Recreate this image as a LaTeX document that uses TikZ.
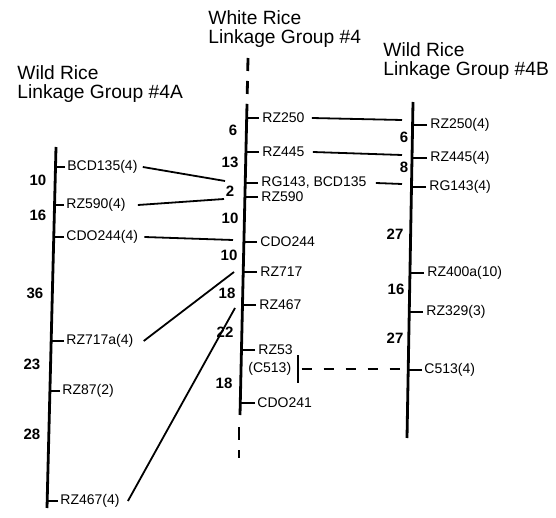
\documentclass[tikz,border=0pt]{standalone}
\usepackage{fontspec}
\setmainfont{Liberation Sans}
\begin{document}
\begin{tikzpicture}[
  x=0.5pt, y=-0.5pt,
  title/.style={anchor=north west, align=left, inner sep=0pt, font=\fontsize{9.6}{9.5}\selectfont},
  marker/.style={anchor=west, inner sep=0pt, font=\fontsize{7}{8}\selectfont},
  dist/.style={inner sep=0pt, font=\fontsize{7.5}{8}\selectfont\bfseries},
  chrom/.style={line width=1.4pt},
  chromdash/.style={line width=1.4pt, dash pattern=on 6.5pt off 5pt},
  tick/.style={line width=1pt},
  link/.style={line width=0.9pt},
  linkdash/.style={line width=0.9pt, dash pattern=on 5pt off 6pt}
]
\useasboundingbox (0,0) rectangle (556,518);

% titles
\node[title] (title-a) at (17,65) {Wild Rice\\Linkage Group \#4A};
\node[title] (title-w) at (208,10) {White Rice\\Linkage Group \#4};
\node[title] (title-b) at (383,42) {Wild Rice\\Linkage Group \#4B};

% chromosomes
\coordinate (a-top) at (56,147);
\coordinate (a-bot) at (47,508);
\coordinate (w-top) at (247,104);
\coordinate (w-bot) at (240,415);
\coordinate (w-dtop) at (248,58);
\coordinate (w-dbot) at (239,427);
\coordinate (w-dend) at (239,458);
\coordinate (b-top) at (413,102);
\coordinate (b-bot) at (407,438);
\draw[chrom] (a-top) -- (a-bot);
\draw[chrom] (w-top) -- (w-bot);
\draw[chromdash] (w-dtop) -- (w-top);
\draw[chromdash] (w-dbot) -- (w-dend);
\draw[chrom] (b-top) -- (b-bot);

% wild rice 4A
\node[marker] (a-bcd135) at (67,167) {BCD135(4)};
\node[marker] (a-rz590) at (66,205) {RZ590(4)};
\node[marker] (a-cdo244) at (66,237) {CDO244(4)};
\node[marker] (a-rz717a) at (66,341) {RZ717a(4)};
\node[marker] (a-rz87) at (62,391) {RZ87(2)};
\node[marker] (a-rz467) at (60,501) {RZ467(4)};
\draw[tick] (a-bcd135.west) ++(-2,0) -- ++(-10,0);
\draw[tick] (a-rz590.west) ++(-2,0) -- ++(-10,0);
\draw[tick] (a-cdo244.west) ++(-2,0) -- ++(-10,0);
\draw[tick] (a-rz717a.west) ++(-2,0) -- ++(-13,0);
\draw[tick] (a-rz87.west) ++(-2,0) -- ++(-10,0);
\draw[tick] (a-rz467.west) ++(-2,0) -- ++(-11,0);
\node[dist] (a-d1) at (38,180) {10};
\node[dist] (a-d2) at (38,215) {16};
\node[dist] (a-d3) at (35,293) {36};
\node[dist] (a-d4) at (32,364) {23};
\node[dist] (a-d5) at (32,434) {28};

% white rice 4
\node[marker] (w-rz250) at (262,118) {RZ250};
\node[marker] (w-rz445) at (262,152) {RZ445};
\node[marker] (w-rg143) at (261,183) {RG143, BCD135};
\node[marker] (w-rz590) at (261,197) {RZ590};
\node[marker] (w-cdo244) at (260,242) {CDO244};
\node[marker] (w-rz717) at (260,272) {RZ717};
\node[marker] (w-rz467) at (259,305) {RZ467};
\node[marker] (w-rz53) at (258,350) {RZ53};
\node[marker] (w-c513) at (248,369) {(C513)};
\node[marker] (w-cdo241) at (257,403) {CDO241};
\draw[tick] (w-rz250.west) ++(-3,0) -- ++(-12,0);
\draw[tick] (w-rz445.west) ++(-3,0) -- ++(-13,0);
\draw[tick] (w-rg143.west) ++(-3,0) -- ++(-13,0);
\draw[tick] (w-rz590.west) ++(-3,0) -- ++(-13,0);
\draw[tick] (w-cdo244.west) ++(-3,0) -- ++(-13,0);
\draw[tick] (w-rz717.west) ++(-3,0) -- ++(-14,0);
\draw[tick] (w-rz467.west) ++(-3,0) -- ++(-14,0);
\draw[tick] (w-rz53.west) ++(-3,0) -- ++(-14,0);
\draw[tick] (w-cdo241.west) ++(-2,0) -- ++(-15,0);
\draw[tick] ([xshift=3pt,yshift=7pt]w-c513.east) -- ([xshift=3pt,yshift=-7pt]w-c513.east);
\node[dist] (w-d1) at (233,130) {6};
\node[dist] (w-d2) at (230,162) {13};
\node[dist] (w-d3) at (230,191) {2};
\node[dist] (w-d4) at (230,218) {10};
\node[dist] (w-d5) at (229,255) {10};
\node[dist] (w-d6) at (227,293) {18};
\node[dist] (w-d7) at (225,332) {22};
\node[dist] (w-d8) at (224,383) {18};

% wild rice 4B
\node[marker] (b-rz250) at (430,125) {RZ250(4)};
\node[marker] (b-rz445) at (430,158) {RZ445(4)};
\node[marker] (b-rg143) at (429,187) {RG143(4)};
\node[marker] (b-rz400a) at (427,273) {RZ400a(10)};
\node[marker] (b-rz329) at (426,312) {RZ329(3)};
\node[marker] (b-c513) at (424,370) {C513(4)};
\draw[tick] (b-rz250.west) ++(-3,0) -- ++(-14,0);
\draw[tick] (b-rz445.west) ++(-3,0) -- ++(-14,0);
\draw[tick] (b-rg143.west) ++(-3,0) -- ++(-14,0);
\draw[tick] (b-rz400a.west) ++(-3,0) -- ++(-14,0);
\draw[tick] (b-rz329.west) ++(-3,0) -- ++(-14,0);
\draw[tick] (b-c513.west) ++(-2,0) -- ++(-14,0);
\node[dist] (b-d1) at (404,137) {6};
\node[dist] (b-d2) at (404,167) {8};
\node[dist] (b-d3) at (395,234) {27};
\node[dist] (b-d4) at (396,289) {16};
\node[dist] (b-d5) at (395,338) {27};

% homologous markers
\coordinate (w-in-bcd135) at (225,181);
\coordinate (w-in-rz590) at (224,199);
\coordinate (w-in-cdo244) at (233,240);
\coordinate (w-in-rz717) at (234,272);
\coordinate (w-in-rz467) at (235,308);
\coordinate (b-in-rz250) at (402,120);
\coordinate (b-in-rz445) at (402,155);
\coordinate (b-in-rg143) at (402,184);
\coordinate (b-in-c513) at (402,369);
\draw[link] (a-bcd135.east) ++(5,0) -- (w-in-bcd135);
\draw[link] (a-rz590.east) ++(12,0) -- (w-in-rz590);
\draw[link] (a-cdo244.east) ++(6,0) -- (w-in-cdo244);
\draw[link] (a-rz717a.east) ++(10,0) -- (w-in-rz717);
\draw[link] (a-rz467.east) ++(8,0) -- (w-in-rz467);
\draw[link] (w-rz250.east) ++(7,0) -- (b-in-rz250);
\draw[link] (w-rz445.east) ++(8,0) -- (b-in-rz445);
\draw[link] (w-rg143.east) ++(9,0) -- (b-in-rg143);
\draw[linkdash] ([xshift=5pt]w-c513.east) -- (b-in-c513);
\end{tikzpicture}
\end{document}
